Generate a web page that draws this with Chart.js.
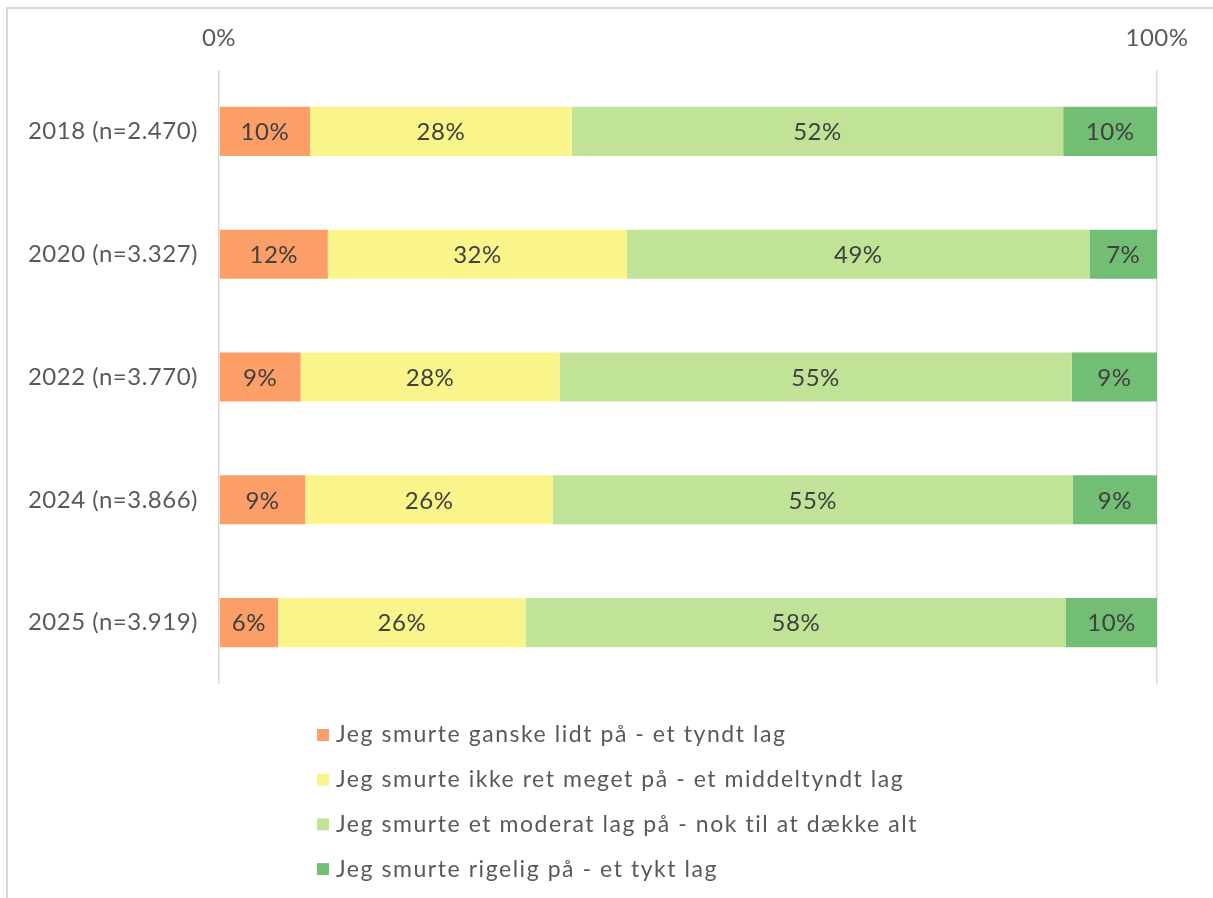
<!DOCTYPE html>
<html>
<head>
<meta charset="utf-8">
<script src="https://cdn.jsdelivr.net/npm/chart.js@4.4.1/dist/chart.umd.min.js"></script>
<style>
  html, body { margin: 0; padding: 0; background: #ffffff; }
  #wrap { position: relative; width: 1213px; height: 898px; }
</style>
</head>
<body>
<div id="wrap"><canvas id="c" width="1213" height="898"></canvas></div>
<script>
// ---- Data ----
const categories = ['2018 (n=2.470)', '2020 (n=3.327)', '2022 (n=3.770)', '2024 (n=3.866)', '2025 (n=3.919)'];
const seriesNames = [
  'Jeg smurte ganske lidt på - et tyndt lag',
  'Jeg smurte ikke ret meget på - et middeltyndt lag',
  'Jeg smurte et moderat lag på - nok til at dække alt',
  'Jeg smurte rigelig på - et tykt lag'
];
const thinLayer     = [9.7, 11.6, 8.7, 9.2, 6.3];
const mediumLayer   = [27.9, 31.9, 27.6, 26.4, 26.4];
const moderateLayer = [52.4, 49.3, 54.6, 55.4, 57.6];
const thickLayer    = [10.0, 7.2, 9.1, 9.0, 9.7];
const xTickValues = [0, 100];
const seriesColors = ['#FC9E68', '#FAF58A', '#C1E397', '#71BE74'];

const FONT = 'Lato, "Open Sans", sans-serif';

const datasets = [thinLayer, mediumLayer, moderateLayer, thickLayer].map((d, i) => ({
  label: seriesNames[i],
  data: d,
  backgroundColor: seriesColors[i],
  borderWidth: 0,
  barPercentage: 0.8,
  categoryPercentage: 0.5
}));

const framePlugin = {
  id: 'frame',
  beforeDraw(chart) {
    const ctx = chart.ctx;
    ctx.save();
    ctx.fillStyle = '#ffffff';
    ctx.fillRect(0, 0, chart.width, chart.height);
    ctx.strokeStyle = '#D9D9D9';
    ctx.lineWidth = 2;
    ctx.beginPath();
    ctx.moveTo(7, chart.height);
    ctx.lineTo(7, 8);
    ctx.lineTo(chart.width, 8);
    ctx.stroke();
    ctx.restore();
    ctx.letterSpacing = '0.5px';
  }
};

const valueLabels = {
  id: 'valueLabels',
  afterDatasetsDraw(chart) {
    const ctx = chart.ctx;
    ctx.save();
    ctx.font = '24px ' + FONT;
    ctx.letterSpacing = '0.5px';
    ctx.fillStyle = '#404040';
    ctx.textAlign = 'center';
    ctx.textBaseline = 'middle';
    chart.data.datasets.forEach((ds, di) => {
      const meta = chart.getDatasetMeta(di);
      meta.data.forEach((bar, i) => {
        const v = ds.data[i];
        const cx = (bar.x + bar.base) / 2;
        ctx.fillText(Math.round(v) + '%', cx, bar.y + 1);
      });
    });
    ctx.restore();
  }
};

const listLegend = {
  id: 'listLegend',
  afterDraw(chart) {
    const ctx = chart.ctx;
    ctx.save();
    ctx.font = '23px ' + FONT;
    ctx.letterSpacing = '1.55px';
    ctx.textBaseline = 'middle';
    ctx.textAlign = 'left';
    const x0 = 317;
    const y0 = 735;
    const step = 44.7;
    chart.data.datasets.forEach((ds, i) => {
      const y = y0 + i * step;
      ctx.fillStyle = ds.backgroundColor;
      ctx.fillRect(x0, y - 6, 12, 12);
      ctx.fillStyle = '#595959';
      ctx.fillText(ds.label, x0 + 19, y);
    });
    ctx.restore();
  }
};

new Chart(document.getElementById('c'), {
  type: 'bar',
  data: { labels: categories, datasets },
  options: {
    indexAxis: 'y',
    responsive: false,
    animation: false,
    devicePixelRatio: 1,
    layout: { padding: { left: 0, right: 56, top: 0, bottom: 214 } },
    plugins: {
      legend: { display: false },
      tooltip: { enabled: false }
    },
    scales: {
      x: {
        position: 'top',
        stacked: true,
        min: 0,
        max: 100,
        afterBuildTicks(scale) { scale.ticks = xTickValues.map(v => ({ value: v })); },
        afterFit(scale) { scale.height = 70; },
        ticks: {
          callback: v => v + '%',
          font: { family: FONT, size: 24 },
          color: '#595959',
          padding: 17,
          maxRotation: 0
        },
        grid: { color: '#D9D9D9', lineWidth: 1.5, drawTicks: false },
        border: { display: false }
      },
      y: {
        stacked: true,
        afterFit(scale) { scale.width = 219; },
        ticks: {
          font: { family: FONT, size: 24 },
          color: '#595959',
          padding: 13
        },
        grid: { display: false },
        border: { display: false }
      }
    }
  },
  plugins: [framePlugin, valueLabels, listLegend]
});
</script>
</body>
</html>
